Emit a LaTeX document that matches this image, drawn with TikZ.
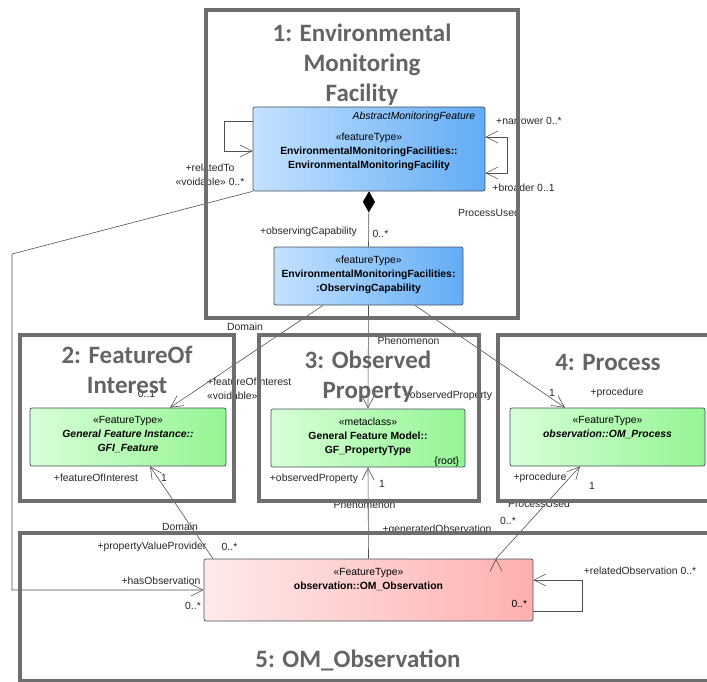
\documentclass[tikz,border=0pt]{standalone}
\usepackage{fontspec}
\setmainfont{Liberation Sans}
\newfontfamily\titlefont{Carlito}
\usepackage{xcolor}
\usetikzlibrary{positioning,arrows.meta}

\definecolor{framegray}{RGB}{110,110,110}
\definecolor{titlegray}{RGB}{100,100,100}
\definecolor{boxedge}{RGB}{70,80,90}
\definecolor{linegray}{RGB}{80,80,80}
\definecolor{blueL}{RGB}{196,226,255}
\definecolor{blueR}{RGB}{98,172,245}
\definecolor{greenL}{RGB}{215,255,215}
\definecolor{greenR}{RGB}{148,245,148}
\definecolor{redL}{RGB}{255,234,234}
\definecolor{redR}{RGB}{255,176,176}

\tikzset{
  featbox/.style={draw=boxedge, rounded corners=2pt, line width=0.7pt, inner sep=0pt},
  bluebox/.style={featbox, left color=blueL, right color=blueR},
  greenbox/.style={featbox, left color=greenL, right color=greenR},
  redbox/.style={featbox, left color=redL, right color=redR},
  classtext/.style={font=\fontsize{10.4}{14}\selectfont, align=center, inner sep=0pt},
  lbl/.style={font=\fontsize{10.4}{12}\selectfont, inner sep=0pt, text=black!85},
  pkgframe/.style={draw=framegray, line width=4pt, inner sep=0pt},
  pkgtitle/.style={font=\titlefont\bfseries\fontsize{25}{30}\selectfont, text=titlegray, align=center},
  assoc/.style={draw=linegray, line width=0.6pt},
  nav/.style={assoc, -{Straight Barb[length=12pt,width=12pt]}},
  navboth/.style={assoc, {Straight Barb[length=12pt,width=12pt]}-{Straight Barb[length=12pt,width=12pt]}}
}

\begin{document}
\begin{tikzpicture}[x=1pt, y=-1pt]
    \useasboundingbox (0,0) rectangle (707,682);

    \node[bluebox, minimum width=232pt, minimum height=84pt] (emf) at (369,149) {};
    \node[bluebox, minimum width=189pt, minimum height=58pt] (cap) at (368.5,276) {};
    \node[greenbox, minimum width=196pt, minimum height=58pt] (gfi) at (128,437) {};
    \node[greenbox, minimum width=194pt, minimum height=58pt] (prop) at (368,438) {};
    \node[greenbox, minimum width=195pt, minimum height=58pt] (proc) at (607.5,437) {};
    \node[redbox, minimum width=329pt, minimum height=62pt] (obs) at (368.5,590) {};

    \node[classtext, below left=5.5pt and 10pt of emf.north east] (emfabs) {\itshape AbstractMonitoringFeature};
    \node[classtext, below=26pt of emf.north] (emftxt) {«featureType»\\ \bfseries EnvironmentalMonitoringFacilities::\\ \bfseries EnvironmentalMonitoringFacility};
    \node[classtext, below=9pt of cap.north] (captxt) {«featureType»\\ \bfseries EnvironmentalMonitoringFacilities:\\ \bfseries :ObservingCapability};
    \node[classtext, below=8.5pt of gfi.north] (gfitxt) {«FeatureType»\\ \bfseries\itshape General Feature Instance::\\ \bfseries\itshape GFI\_Feature};
    \node[classtext, below=9pt of prop.north] (proptxt) {«metaclass»\\ \bfseries General Feature Model::\\ \bfseries GF\_PropertyType};
    \node[classtext, above left=0.5pt and 6pt of prop.south east] (proproot) {\{root\}};
    \node[classtext, below=8.5pt of proc.north] (proctxt) {«FeatureType»\\ \bfseries\itshape observation::OM\_Process};
    \node[classtext, below=9pt of obs.north] (obstxt) {«FeatureType»\\ \bfseries observation::OM\_Observation};
    \node[classtext, above left=14pt and 6pt of obs.south east] (obsmult) {0..*};

    \node[lbl] (lcap) at (308.5,232) {+observingCapability};
    \node[lbl] (lcapm) at (380.5,234) {0..*};
    \node[lbl] (lrel) at (210,168) {+relatedTo};
    \node[lbl] (lrelm) at (210,182) {«voidable» 0..*};
    \node[lbl] (lnar) at (529,121) {+narrower 0..*};
    \node[lbl] (lbro) at (523.5,188) {+broader 0..1};
    \node[lbl] (lpu1) at (489,213) {ProcessUsed};
    \node[lbl] (ldom1) at (245,327) {Domain};
    \node[lbl, anchor=west] (lfoi1) at (207,382) {+featureOfInterest};
    \node[lbl, anchor=west] (lvoid) at (207,396) {«voidable»};
    \node[lbl] (lfoim) at (146.5,394) {0..1};
    \node[lbl] (lphen1) at (408.5,341) {Phenomenon};
    \node[lbl] (lop1) at (448,396) {+observedProperty};
    \node[lbl] (lprm) at (552,393) {1};
    \node[lbl] (lpr1) at (617,393) {+procedure};
    \node[lbl] (lfoi2) at (96,478) {+featureOfInterest};
    \node[lbl] (lfoi2m) at (164,478) {1};
    \node[lbl] (ldom2) at (180,527) {Domain};
    \node[lbl] (lpvp) at (152,547) {+propertyValueProvider};
    \node[lbl] (lpvpm) at (229.5,547) {0..*};
    \node[lbl] (lhas) at (161,581) {+hasObservation};
    \node[lbl] (lhasm) at (193,606) {0..*};
    \node[lbl] (lop2) at (314,479) {+observedProperty};
    \node[lbl] (lop2m) at (382,484) {1};
    \node[lbl] (lphen2) at (364.5,505) {Phenomenon};
    \node[lbl] (lgen) at (437,530) {+generatedObservation};
    \node[lbl] (lpr2) at (540,478) {+procedure};
    \node[lbl] (lpr2m) at (592,486) {1};
    \node[lbl] (lpu2) at (539,504) {ProcessUsed};
    \node[lbl] (lpu2m) at (508,521) {0..*};
    \node[lbl] (lrob) at (640,571) {+relatedObservation 0..*};

    \coordinate (bendL) at (12,254);

    \path[assoc]
        (emf.south) edge[{Diamond[length=21pt,width=12pt,color=black]}-] (cap.north);
    \path[nav]
        ([xshift=-45.5pt]cap.south) edge ([xshift=42pt]gfi.north)
        (cap.south) edge (prop.north)
        ([xshift=46.5pt]cap.south) edge ([xshift=-42.5pt]proc.north)
        ([xshift=-155.5pt]obs.north) edge ([xshift=22pt]gfi.south)
        (obs.north) edge (prop.south)
        ([xshift=127.5pt]obs.north) edge ([xshift=-27.5pt]proc.south);
    \draw[nav] (emf.south west) -- (bendL) |- (obs.west);
    \draw[nav] ([yshift=28pt]emf.west) -- ++(-28,0) |- ([yshift=-2pt]emf.west);
    \draw[navboth] ([yshift=12pt]emf.east) -- ++(22,0) |- ([yshift=-24pt]emf.east);
    \draw[nav] ([yshift=-21pt]obs.east) -- ++(49,0) |- ([yshift=10pt]obs.east);

    \node[pkgframe, minimum width=312pt, minimum height=308pt] (pkg1) at (362,164) {};
    \node[pkgframe, minimum width=214pt, minimum height=166pt] (pkg2) at (127,418) {};
    \node[pkgframe, minimum width=220pt, minimum height=166pt] (pkg3) at (369,418) {};
    \node[pkgframe, minimum width=220pt, minimum height=166pt] (pkg4) at (608,418) {};
    \node[pkgframe, minimum width=700pt, minimum height=148pt] (pkg5) at (370,607) {};

    \node[pkgtitle] (t1) at (362,65) {1: Environmental\\Monitoring\\Facility};
    \node[pkgtitle] (t2) at (127,370) {2: FeatureOf\\Interest};
    \node[pkgtitle] (t3) at (368,377) {3: Observed\\Property};
    \node[pkgtitle] (t4) at (608,362) {4: Process};
    \node[pkgtitle] (t5) at (358,660) {5: OM\_Observation};

\end{tikzpicture}
\end{document}
